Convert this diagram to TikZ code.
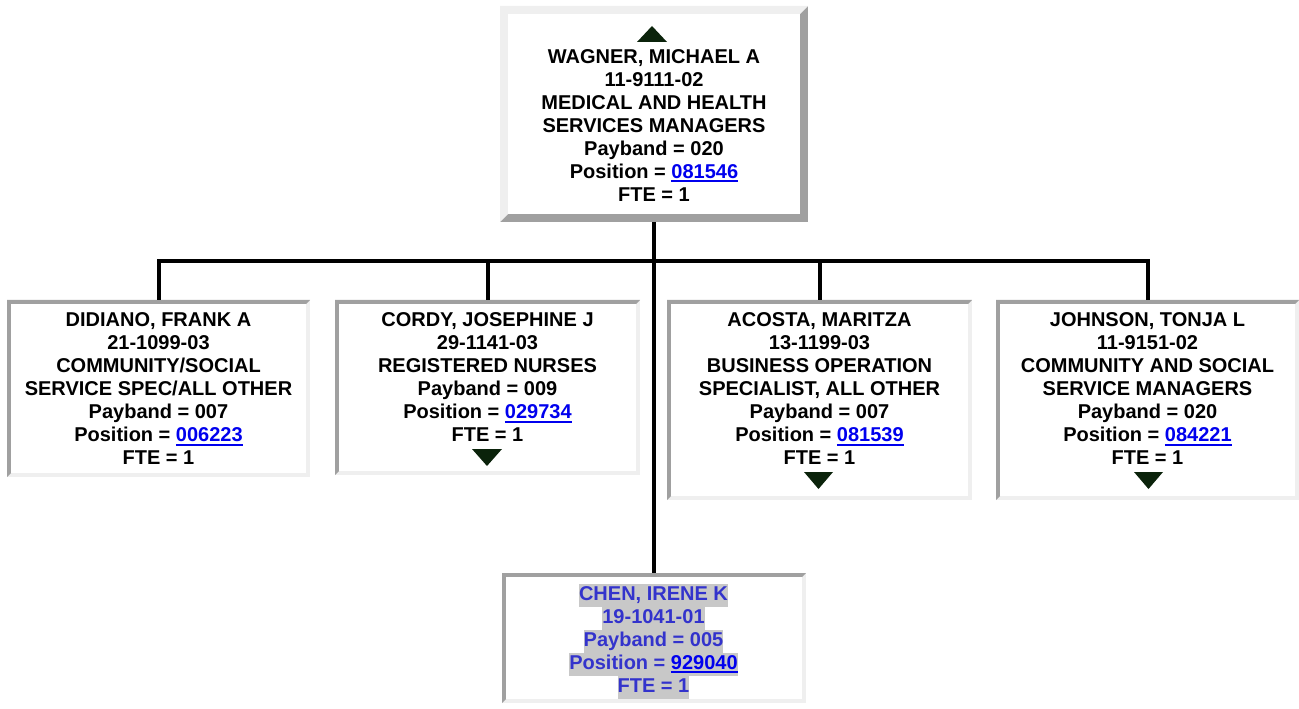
\documentclass[tikz,border=0pt]{standalone}
\usepackage{fontspec}
\setmainfont{Liberation Sans}
\definecolor{lite}{HTML}{EFEFEF}
\definecolor{dark}{HTML}{A0A0A0}
\definecolor{link}{HTML}{0000EE}
\definecolor{chentext}{HTML}{3333CC}
\definecolor{hlgray}{HTML}{C8C8C8}
\definecolor{tricol}{HTML}{0B230B}
\setlength\fboxsep{0pt}
\newcommand\orglnk[1]{\textcolor{link}{\setbox0=\hbox{#1}\rlap{\rule[-3.1pt]{\wd0}{1.5pt}}\box0}}
\newcommand\orghl[1]{\colorbox{hlgray}{\strut#1}}
\newcommand\draworgframe[4]{%
  \fill[#4] (#1.north west) rectangle (#1.south east);
  \fill[#3] (#1.north west) -- (#1.north east) -- ([shift={(-#2,#2)}]#1.north east)
     -- ([shift={(#2,#2)}]#1.north west) -- ([shift={(#2,-#2)}]#1.south west) -- (#1.south west) -- cycle;
  \fill[white] ([shift={(#2,#2)}]#1.north west) rectangle ([shift={(-#2,-#2)}]#1.south east);}
\begin{document}
\begin{tikzpicture}[x=0.75pt,y=-0.75pt,
  box/.style={rectangle, inner sep=0pt, outer sep=0pt},
  txt/.style={align=center, inner sep=0pt, anchor=north, font=\fontsize{15}{17.25}\selectfont\bfseries},
  conn/.style={line width=3pt, black},
  arrowtri/.style={fill=tricol}]
\useasboundingbox (0,0) rectangle (1299,709);
% boxes
\node[box, minimum width=231pt, minimum height=162pt] (top) at (654,114) {};
\node[box, minimum width=227.25pt, minimum height=132.75pt] (didiano) at (158.5,388.5) {};
\node[box, minimum width=228.75pt, minimum height=131.25pt] (cordy) at (487.5,387.5) {};
\node[box, minimum width=228.75pt, minimum height=150pt] (acosta) at (819.5,400) {};
\node[box, minimum width=227.25pt, minimum height=150pt] (johnson) at (1147.5,400) {};
\node[box, minimum width=228pt, minimum height=97.5pt] (chen) at (654,638) {};
% frames
\draworgframe{top}{8}{lite}{dark}
\draworgframe{didiano}{4}{dark}{lite}
\draworgframe{cordy}{4}{dark}{lite}
\draworgframe{acosta}{4}{dark}{lite}
\draworgframe{johnson}{4}{dark}{lite}
\draworgframe{chen}{4}{dark}{lite}
% texts
\node[txt] (topT) at (654,46.9) {\strut WAGNER, MICHAEL A\\11-9111-02\\MEDICAL AND HEALTH\\SERVICES MANAGERS\\Payband = 020\\Position = \orglnk{081546}\\FTE = 1};
\node[txt] (didianoT) at (158.5,310.6) {\strut DIDIANO, FRANK A\\21-1099-03\\COMMUNITY/SOCIAL\\SERVICE SPEC/ALL OTHER\\Payband = 007\\Position = \orglnk{006223}\\FTE = 1};
\node[txt] (cordyT) at (487.5,310.2) {\strut CORDY, JOSEPHINE J\\29-1141-03\\REGISTERED NURSES\\Payband = 009\\Position = \orglnk{029734}\\FTE = 1};
\node[txt] (acostaT) at (819.5,310.4) {\strut ACOSTA, MARITZA\\13-1199-03\\BUSINESS OPERATION\\SPECIALIST, ALL OTHER\\Payband = 007\\Position = \orglnk{081539}\\FTE = 1};
\node[txt] (johnsonT) at (1147.5,310.4) {\strut JOHNSON, TONJA L\\11-9151-02\\COMMUNITY AND SOCIAL\\SERVICE MANAGERS\\Payband = 020\\Position = \orglnk{084221}\\FTE = 1};
\node[txt, text=chentext] (chenT) at (653.5,583.9) {\orghl{CHEN, IRENE K}\\\orghl{19-1041-01}\\\orghl{Payband = 005}\\\orghl{Position = \orglnk{929040}}\\\orghl{FTE = 1}};
% triangles
\fill[arrowtri] (637,42) -- (652,26) -- (667,42) -- cycle;
\fill[arrowtri] (472,449) -- (502,449) -- (487,466) -- cycle;
\fill[arrowtri] (804,472) -- (833,472) -- (818.5,489) -- cycle;
\fill[arrowtri] (1134,472) -- (1163,472) -- (1148.5,489) -- cycle;
% connectors
\coordinate (bus) at (654,261);
\draw[conn] (top.south) -- (chen.north);
\draw[conn] (didiano.north) |- (bus) -| (johnson.north);
\draw[conn] (cordy.north) -- (cordy.north |- bus);
\draw[conn] (acosta.north) -- (acosta.north |- bus);
\end{tikzpicture}
\end{document}
